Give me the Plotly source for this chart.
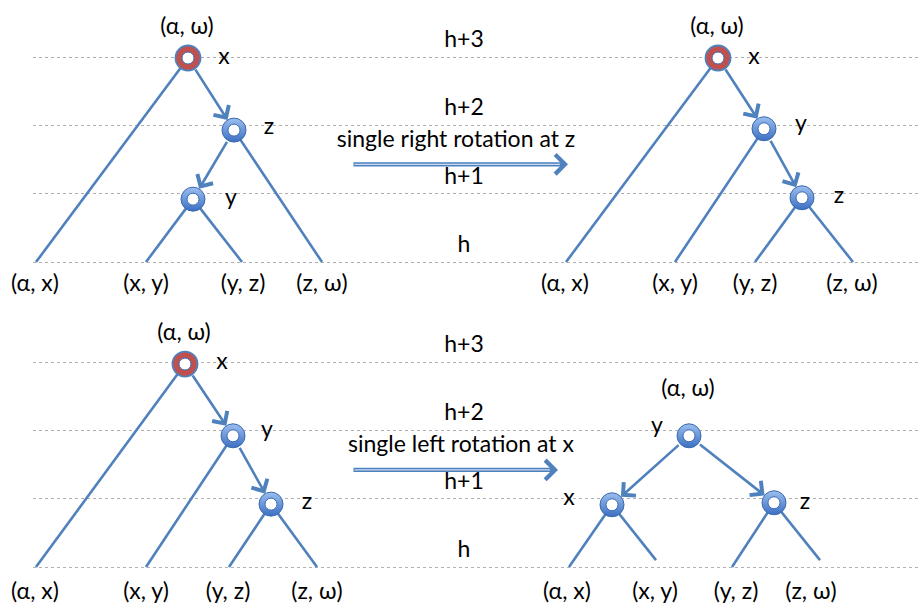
import plotly.graph_objects as go

# ---------------- data ----------------
levels = [0, 1, 2, 3]
level_labels = ["h", "h+1", "h+2", "h+3"]
level_label_x = 464

captions = ["single right rotation at z", "single left rotation at x"]
caption_x = [456, 461]
caption_lvl = [1.77, 1.76]
rot_arrow_x0 = [352, 352]
rot_arrow_x1 = [568, 558]
rot_arrow_lvl = [1.43, 1.42]

# top-left tree (before right rotation)
tl_names = ["x", "z", "y"]
tl_x = [188, 234, 193]
tl_lvl = [2.985, 1.93, 0.92]
tl_red = [True, False, False]
tl_lab_x = [224, 269, 231]
tl_lab_lvl = [2.985, 1.96, 0.92]
tl_arrows = [(0, 1), (1, 2)]
tl_leaf = ["(α, x)", "(x, y)", "(y, z)", "(z, ω)"]
tl_leaf_x = [36, 146, 242, 322]
tl_leaf_lvl = [0, 0, 0, 0]
tl_leaf_parent = [0, 2, 2, 1]
tl_leaf_lab_x = [35, 146, 243, 322]
tl_root_lab = (187, 3.42)

# top-right tree (after right rotation)
tr_names = ["x", "y", "z"]
tr_x = [718, 764, 802]
tr_lvl = [2.985, 1.95, 0.94]
tr_red = [True, False, False]
tr_lab_x = [754, 801, 839]
tr_lab_lvl = [2.985, 2.0, 0.95]
tr_arrows = [(0, 1), (1, 2)]
tr_leaf = ["(α, x)", "(x, y)", "(y, z)", "(z, ω)"]
tr_leaf_x = [566, 675, 755, 853]
tr_leaf_lvl = [0, 0, 0, 0]
tr_leaf_parent = [0, 1, 2, 2]
tr_leaf_lab_x = [565, 675, 755, 852]
tr_root_lab = (717, 3.42)

# bottom-left tree (before left rotation)
bl_names = ["x", "y", "z"]
bl_x = [185, 233, 271]
bl_lvl = [2.97, 1.92, 0.92]
bl_red = [True, False, False]
bl_lab_x = [222, 267, 307]
bl_lab_lvl = [2.98, 1.98, 0.94]
bl_arrows = [(0, 1), (1, 2)]
bl_leaf = ["(α, x)", "(x, y)", "(y, z)", "(z, ω)"]
bl_leaf_x = [36, 146, 229, 317]
bl_leaf_lvl = [0, 0, 0, 0]
bl_leaf_parent = [0, 1, 2, 2]
bl_leaf_lab_x = [35, 146, 228, 317]
bl_root_lab = (184, 3.40)

# bottom-right tree (after left rotation)
br_names = ["y", "x", "z"]
br_x = [689, 612, 774]
br_lvl = [1.92, 0.91, 0.94]
br_red = [False, False, False]
br_lab_x = [657, 569, 805]
br_lab_lvl = [2.04, 0.99, 0.94]
br_arrows = [(0, 1), (0, 2)]
br_leaf = ["(α, x)", "(x, y)", "(y, z)", "(z, ω)"]
br_leaf_x = [569, 656, 732, 820]
br_leaf_lvl = [0, 0.1, 0, 0.1]
br_leaf_parent = [1, 1, 2, 2]
br_leaf_lab_x = [567, 655, 736, 811]
br_root_lab = (688, 2.58)

LEAF_LAB_LVL = [-0.34, -0.38]

# ---------------- style ----------------
FONT = "Lato"
FS = 23
EDGE = "#4f81bd"
EW = 2.6

fig = go.Figure()
annotations = []


def panel(names, xs, lv, red, labx, lably, arrows, leaves, leafx, leaflvl,
          leafpar, leaflabx, rootlab, xa, ya, leaf_lab_lvl):
    # plain edges (node -> leaf)
    ex, ey = [], []
    for i, p in enumerate(leafpar):
        ex += [xs[p], leafx[i], None]
        ey += [lv[p], leaflvl[i], None]
    fig.add_trace(go.Scatter(x=ex, y=ey, mode="lines", xaxis=xa, yaxis=ya,
                             line=dict(color=EDGE, width=EW), hoverinfo="skip",
                             showlegend=False))
    # arrowed edges
    for a, b in arrows:
        annotations.append(dict(x=xs[b], y=lv[b], ax=xs[a], ay=lv[a],
                                xref=xa, yref=ya, axref=xa, ayref=ya,
                                showarrow=True, arrowhead=4, arrowsize=1.35,
                                arrowwidth=EW, arrowcolor=EDGE, standoff=12,
                                startstandoff=12, text=""))
    # nodes
    blue_idx = [i for i in range(len(names)) if not red[i]]
    red_idx = [i for i in range(len(names)) if red[i]]
    if blue_idx:
        fig.add_trace(go.Scatter(
            x=[xs[i] for i in blue_idx], y=[lv[i] for i in blue_idx],
            mode="markers", xaxis=xa, yaxis=ya, hoverinfo="skip", showlegend=False,
            marker=dict(size=24, color="#9cbff0",
                        gradient=dict(type="vertical", color="#3c6fc2"),
                        line=dict(color="#3a69ad", width=1))))
    if red_idx:
        fig.add_trace(go.Scatter(
            x=[xs[i] for i in red_idx], y=[lv[i] for i in red_idx],
            mode="markers", xaxis=xa, yaxis=ya, hoverinfo="skip", showlegend=False,
            marker=dict(size=25, color="#c0504d",
                        line=dict(color="#4f81bd", width=1.8))))
    fig.add_trace(go.Scatter(
        x=xs, y=lv, mode="markers", xaxis=xa, yaxis=ya, hoverinfo="skip",
        showlegend=False,
        marker=dict(size=12, color="white", line=dict(color="#3d6db5", width=1))))
    # node labels
    fig.add_trace(go.Scatter(x=labx, y=lably, mode="text", text=names,
                             xaxis=xa, yaxis=ya, hoverinfo="skip", showlegend=False,
                             cliponaxis=False,
                             textfont=dict(family=FONT, size=FS, color="black")))
    # leaf labels
    fig.add_trace(go.Scatter(x=leaflabx, y=[leaf_lab_lvl] * len(leaves), mode="text",
                             text=leaves, xaxis=xa, yaxis=ya, hoverinfo="skip",
                             showlegend=False, cliponaxis=False,
                             textfont=dict(family=FONT, size=FS, color="black")))
    # root interval label
    fig.add_trace(go.Scatter(x=[rootlab[0]], y=[rootlab[1]], mode="text",
                             text=["(α, ω)"], xaxis=xa, yaxis=ya, hoverinfo="skip",
                             showlegend=False, cliponaxis=False,
                             textfont=dict(family=FONT, size=FS, color="black")))


panel(tl_names, tl_x, tl_lvl, tl_red, tl_lab_x, tl_lab_lvl, tl_arrows, tl_leaf,
      tl_leaf_x, tl_leaf_lvl, tl_leaf_parent, tl_leaf_lab_x, tl_root_lab, "x", "y",
      LEAF_LAB_LVL[0])
panel(tr_names, tr_x, tr_lvl, tr_red, tr_lab_x, tr_lab_lvl, tr_arrows, tr_leaf,
      tr_leaf_x, tr_leaf_lvl, tr_leaf_parent, tr_leaf_lab_x, tr_root_lab, "x", "y",
      LEAF_LAB_LVL[0])
panel(bl_names, bl_x, bl_lvl, bl_red, bl_lab_x, bl_lab_lvl, bl_arrows, bl_leaf,
      bl_leaf_x, bl_leaf_lvl, bl_leaf_parent, bl_leaf_lab_x, bl_root_lab, "x2", "y2",
      LEAF_LAB_LVL[1])
panel(br_names, br_x, br_lvl, br_red, br_lab_x, br_lab_lvl, br_arrows, br_leaf,
      br_leaf_x, br_leaf_lvl, br_leaf_parent, br_leaf_lab_x, br_root_lab, "x2", "y2",
      LEAF_LAB_LVL[1])

# level labels, captions and rotation arrows
for k, (xa, ya) in enumerate([("x", "y"), ("x2", "y2")]):
    fig.add_trace(go.Scatter(x=[level_label_x] * len(levels),
                             y=[l + 0.23 for l in levels], mode="text",
                             text=level_labels, xaxis=xa, yaxis=ya, hoverinfo="skip",
                             showlegend=False, cliponaxis=False,
                             textfont=dict(family=FONT, size=FS, color="black")))
    fig.add_trace(go.Scatter(x=[caption_x[k]], y=[caption_lvl[k]], mode="text",
                             text=[captions[k]], xaxis=xa, yaxis=ya, hoverinfo="skip",
                             showlegend=False, cliponaxis=False,
                             textfont=dict(family=FONT, size=FS, color="black")))
    annotations.append(dict(x=rot_arrow_x1[k], y=rot_arrow_lvl[k],
                            ax=rot_arrow_x0[k], ay=rot_arrow_lvl[k],
                            xref=xa, yref=ya, axref=xa, ayref=ya, showarrow=True,
                            arrowhead=4, arrowsize=0.9, arrowwidth=4.2,
                            arrowcolor="#4f81bd", text=""))
    annotations.append(dict(x=rot_arrow_x1[k] - 8, y=rot_arrow_lvl[k],
                            ax=rot_arrow_x0[k] + 1, ay=rot_arrow_lvl[k],
                            xref=xa, yref=ya, axref=xa, ayref=ya, showarrow=True,
                            arrowhead=0, arrowwidth=1.2,
                            arrowcolor="#c9dbf2", text=""))

axis_y = dict(tickvals=levels, showticklabels=False, showgrid=True,
              gridcolor="#b0b0b0", griddash="dot", gridwidth=1, zeroline=False,
              showline=False, ticks="", fixedrange=True)
axis_x = dict(range=[33, 919], domain=[33 / 919, 1], showgrid=False, zeroline=False,
              showline=False, showticklabels=False, ticks="", fixedrange=True)

fig.update_layout(
    width=919, height=604,
    margin=dict(l=0, r=0, t=0, b=0),
    paper_bgcolor="white", plot_bgcolor="white",
    showlegend=False,
    xaxis=dict(axis_x, anchor="y"),
    yaxis=dict(axis_y, domain=[0.5, 1], range=[-0.585, 3.834], anchor="x"),
    xaxis2=dict(axis_x, anchor="y2"),
    yaxis2=dict(axis_y, domain=[0, 0.5], range=[-0.5415, 3.878], anchor="x2"),
    annotations=annotations,
    font=dict(family=FONT, size=FS, color="black"),
)

fig.write_html("out.html", config={"displayModeBar": False},
               post_script="document.body.style.margin='0';"
                           "document.body.style.overflow='hidden';")
